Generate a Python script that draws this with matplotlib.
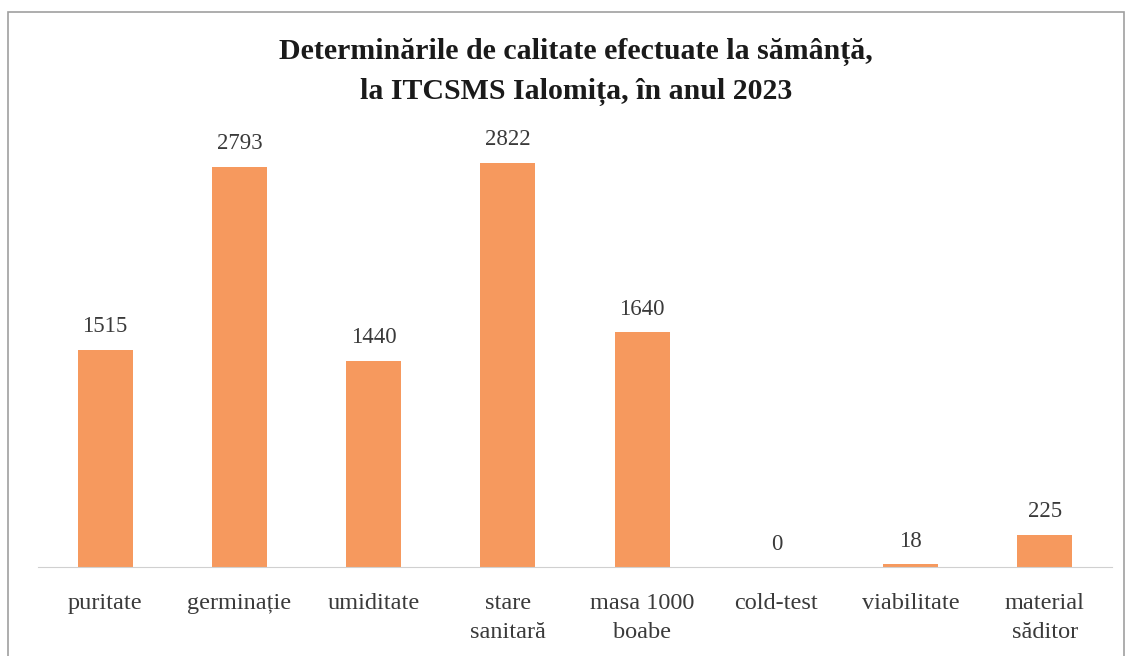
import matplotlib
matplotlib.use('Agg')
import matplotlib.pyplot as plt
from matplotlib.patches import Rectangle

categorii = ['puritate', 'germinație', 'umiditate', 'stare\nsanitară', 'masa 1000\nboabe',
             'cold-test', 'viabilitate', 'material\nsăditor']
valori = [1515, 2793, 1440, 2822, 1640, 0, 18, 225]
titlu = 'Determinările de calitate efectuate la sămânță,\nla ITCSMS Ialomița, în anul 2023'

plt.rcParams['font.family'] = ['Liberation Serif', 'DejaVu Serif']

fig = plt.figure(figsize=(11.29, 6.56), dpi=100)
fig.patch.set_facecolor('white')

# chart frame (bottom edge falls off the picture)
fig.patches.append(Rectangle((8 / 1129, -4 / 656), 1116 / 1129, 648 / 656, transform=fig.transFigure,
                             fill=False, edgecolor='#a0a0a0', linewidth=1.2))

ax = fig.add_axes([38 / 1129, 89 / 656, 1074 / 1129, 437 / 656])
x = range(len(categorii))
bars = ax.bar(x, valori, width=0.41, color='#F6995E')
for b, v in zip(bars, valori):
    ax.annotate(str(v), (b.get_x() + b.get_width() / 2, v), xytext=(0, 9), textcoords='offset points',
                ha='center', va='bottom', fontsize=16.5, color='#3a3a3a')

ax.set_xlim(-0.5, len(categorii) - 0.5)
ax.set_ylim(0, 3050)
ax.set_yticks([])
ax.set_xticks(list(x))
ax.set_xticklabels(categorii, fontsize=17.5, color='#3a3a3a', linespacing=1.5)
ax.tick_params(axis='x', length=0, pad=19)
for s in ['top', 'right', 'left']:
    ax.spines[s].set_visible(False)
ax.spines['bottom'].set_color('#d0d0d0')

fig.text(0.51, 0.89, titlu, ha='center', va='center', fontsize=21.5, fontweight='bold',
         color='#1a1a1a', linespacing=1.6)

plt.savefig('out.png', dpi=100)
